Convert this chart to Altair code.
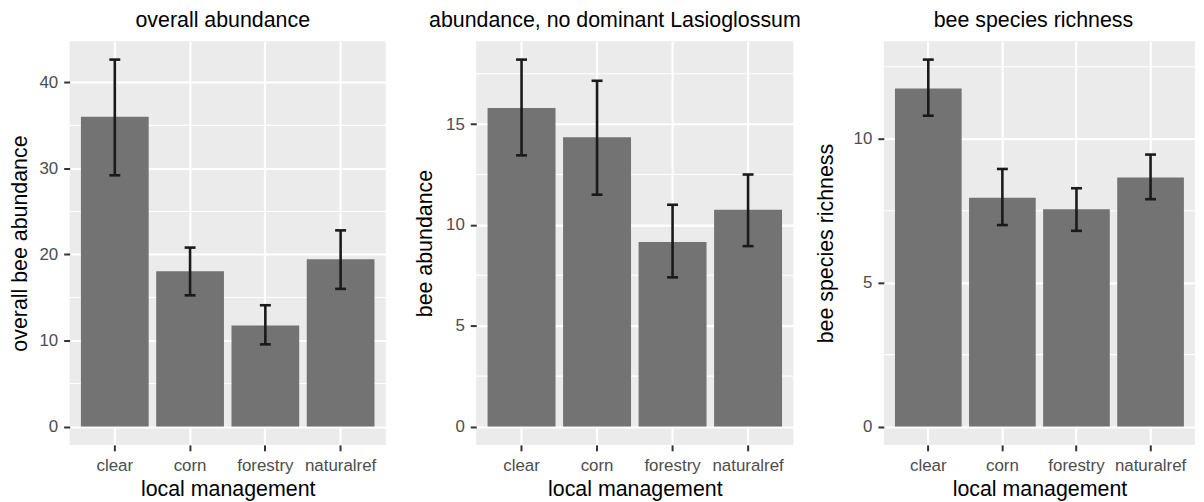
import altair as alt
import pandas as pd

FONT = "Liberation Sans"

management = ["clear", "corn", "forestry", "naturalref"]

# panel 1: overall abundance
abund_mean = [36.0, 18.05, 11.75, 19.45]
abund_lower = [29.2, 15.25, 9.55, 16.0]
abund_upper = [42.65, 20.8, 14.1, 22.8]
abund_ticks = [0, 10, 20, 30, 40]
abund_minor = [5, 15, 25, 35]

# panel 2: abundance without dominant Lasioglossum
nolas_mean = [15.8, 14.35, 9.15, 10.75]
nolas_lower = [13.45, 11.5, 7.4, 8.95]
nolas_upper = [18.2, 17.15, 11.0, 12.5]
nolas_ticks = [0, 5, 10, 15]
nolas_minor = [2.5, 7.5, 12.5, 17.5]

# panel 3: species richness
rich_mean = [11.75, 7.95, 7.55, 8.65]
rich_lower = [10.8, 7.0, 6.8, 7.9]
rich_upper = [12.75, 8.95, 8.28, 9.45]
rich_ticks = [0, 5, 10]
rich_minor = [2.5, 7.5, 12.5]


def panel(title, ytitle, mean, lower, upper, ticks, minor, width, height,
          title_dx, ytp):
    df = pd.DataFrame({"management": management, "mean": mean,
                       "lower": lower, "upper": upper})
    top = max(upper)
    pad = 0.05 * top
    yscale = alt.Scale(domain=[-pad, top + pad], nice=False, zero=False)
    xscale = alt.Scale(paddingInner=0.1, paddingOuter=0.15)
    xaxis = alt.Axis(title="local management", labelAngle=0,
                     bandPosition=0.5, grid=True)
    yaxis = alt.Axis(title=ytitle, values=ticks, titlePadding=ytp, grid=True)
    xenc = alt.X("management:N", scale=xscale, sort=management, axis=xaxis)

    minor_df = pd.DataFrame({"v": minor})
    minor_layer = alt.Chart(minor_df).mark_rule(
        color="white", strokeWidth=1.1
    ).encode(y=alt.Y("v:Q", scale=yscale, axis=yaxis))

    base = alt.Chart(df)
    bars = base.mark_bar(color="#737373").encode(
        x=xenc,
        y=alt.Y("mean:Q", scale=yscale, axis=yaxis),
        y2=alt.datum(0),
    )
    err = base.mark_rule(color="#1a1a1a", strokeWidth=2.6).encode(
        x=xenc,
        y=alt.Y("lower:Q", scale=yscale, axis=yaxis),
        y2="upper:Q",
    )
    cap_hi = base.mark_tick(color="#1a1a1a", size=11, thickness=2.6,
                            opacity=1).encode(
        x=xenc, y=alt.Y("upper:Q", scale=yscale, axis=yaxis)
    )
    cap_lo = base.mark_tick(color="#1a1a1a", size=11, thickness=2.6,
                            opacity=1).encode(
        x=xenc, y=alt.Y("lower:Q", scale=yscale, axis=yaxis)
    )
    return alt.layer(minor_layer, bars, err, cap_hi, cap_lo).properties(
        width=width,
        height=height,
        title=alt.TitleParams(
            text=title, fontSize=21.5, font=FONT, fontWeight="normal",
            color="black", anchor="middle", frame="group", dx=title_dx,
            offset=10,
        ),
    )


p1 = panel("overall abundance", "overall bee abundance", abund_mean,
           abund_lower, abund_upper, abund_ticks, abund_minor, 318, 406, -5, 7)
p2 = panel("abundance, no dominant Lasioglossum", "bee abundance", nolas_mean,
           nolas_lower, nolas_upper, nolas_ticks, nolas_minor, 319, 406, -20, 9.5)
p3 = panel("bee species richness", "bee species richness", rich_mean,
           rich_lower, rich_upper, rich_ticks, rich_minor, 313, 406, -6, 16)

chart = alt.hconcat(p1, p2, p3, spacing=91, bounds="flush").properties(
    padding={"left": 2, "top": 0, "right": 0, "bottom": 0},
    background="white",
).configure_view(
    fill="#EBEBEB", stroke=None
).configure_axis(
    labelFont=FONT, labelFontSize=17, labelColor="#4d4d4d",
    titleFont=FONT, titleFontSize=21.5, titleColor="black",
    titleFontWeight="normal", tickColor="#333333", tickWidth=2,
    tickSize=6, domain=False, gridColor="white", gridWidth=2.2,
    labelPadding=6,
).configure_axisX(
    labelPadding=7, titlePadding=5,
)

chart.save("out.html", embed_options={"renderer": "svg", "actions": False})
